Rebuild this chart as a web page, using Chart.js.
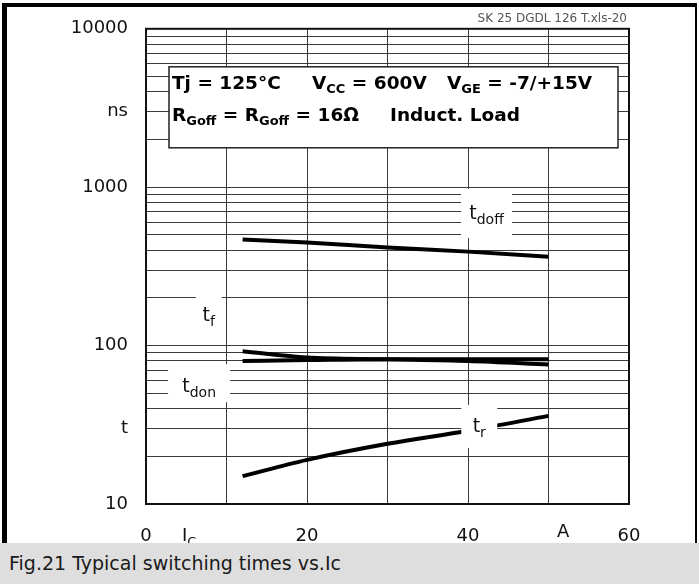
<!DOCTYPE html>
<html>
<head>
<meta charset="utf-8">
<script src="https://cdn.jsdelivr.net/npm/chart.js@4.4.1/dist/chart.umd.min.js"></script>
<style>
  html, body { margin: 0; padding: 0; background: #fff; }
  #wrap { position: relative; width: 699px; height: 584px; overflow: hidden; }
  canvas { position: absolute; left: 0; top: 0; }
  #frame { position: absolute; left: 2px; top: 3px; width: 695px; height: 540px; box-sizing: border-box;
           border-left: 5px solid #000; border-top: 4px solid #000; border-right: 2px solid #000; pointer-events: none; }
  #caption { position: absolute; left: 0; top: 543px; width: 699px; height: 41px; background: #dedede;
             font: 19px "DejaVu Sans", sans-serif; color: #1a1a1a; line-height: 40px; padding-left: 9px; box-sizing: border-box; }
</style>
</head>
<body>
<div id="wrap">
  <canvas id="chart" width="699" height="584"></canvas>
  <div id="frame"></div>
  <div id="caption">Fig.21 Typical switching times vs.Ic</div>
</div>
<script>
// collector current Ic (A)
var current = [12, 20, 30, 40, 50];
// switching times (ns)
var tDoff = [468, 447, 416, 392, 364];
var tF = [92, 84, 82, 80, 76];
var tDon = [80, 81, 82, 82, 82];
var tR = [15, 19, 24, 29, 36];

var xTickLabels = { 0: "0", 20: "20", 40: "40", 60: "60" };
var yGridValues = [10, 20, 30, 40, 50, 60, 70, 80, 90,
                   100, 200, 300, 400, 500, 600, 700, 800, 900,
                   1000, 2000, 3000, 4000, 5000, 6000, 7000, 8000, 9000, 10000];
var yTickLabels = { 10: "10", 30: "t", 100: "100", 1000: "1000", 3000: "ns", 10000: "10000" };

// curve labels: main letter, subscript, box centre in data units
var curveLabels = [
  { main: "t", sub: "doff", x: 42.3, y: 683, w: 51, h: 49, dy: 6 },
  { main: "t", sub: "r", x: 41.4, y: 30.9, w: 36, h: 43, dy: 6 },
  { main: "t", sub: "don", x: 6.6, y: 57.9, w: 62, h: 38, dy: 9 },
  { main: "t", sub: "f", x: 7.8, y: 168, w: 26, h: 52, dy: 11 }
];

var FONT = "DejaVu Sans";

function points(ys) {
  return current.map(function (x, i) { return { x: x, y: ys[i] }; });
}

function lineSet(label, ys) {
  return {
    label: label,
    data: points(ys),
    borderColor: "#000",
    borderWidth: 4,
    pointRadius: 0,
    cubicInterpolationMode: "monotone",
    fill: false
  };
}

// draws text made of [text, isSub] pieces, returns end x
function drawRich(ctx, x, y, parts, size, subSize, bold, subDrop) {
  var w = bold ? "bold " : "";
  parts.forEach(function (p) {
    ctx.font = w + (p[1] ? subSize : size) + "px '" + FONT + "'";
    ctx.fillText(p[0], x, p[1] ? y + subDrop : y);
    x += ctx.measureText(p[0]).width;
  });
  return x;
}

function richWidth(ctx, parts, size, subSize, bold) {
  var w = bold ? "bold " : "";
  var total = 0;
  parts.forEach(function (p) {
    ctx.font = w + (p[1] ? subSize : size) + "px '" + FONT + "'";
    total += ctx.measureText(p[0]).width;
  });
  return total;
}

var overlay = {
  id: "overlay",
  afterDatasetsDraw: function (chart) {
    var ctx = chart.ctx;
    var a = chart.chartArea;
    var xs = chart.scales.x, ys = chart.scales.y;
    ctx.save();
    ctx.textAlign = "left";
    ctx.textBaseline = "alphabetic";

    // curve labels with white backgrounds
    curveLabels.forEach(function (l) {
      var cx = xs.getPixelForValue(l.x);
      var cy = ys.getPixelForValue(l.y);
      ctx.fillStyle = "#fff";
      ctx.fillRect(cx - l.w / 2, cy - l.h / 2, l.w, l.h);
      ctx.fillStyle = "#111";
      var parts = [[l.main, false], [l.sub, true]];
      var tw = richWidth(ctx, parts, 19, 14, false);
      drawRich(ctx, cx - tw / 2, cy + l.dy, parts, 19, 14, false, 5);
    });

    // plot frame
    ctx.strokeStyle = "#111";
    ctx.lineWidth = 2;
    ctx.strokeRect(a.left, a.top, a.right - a.left, a.bottom - a.top);

    // conditions box
    var bx = a.left + 23, by = a.top + 38;
    ctx.fillStyle = "#fff";
    ctx.fillRect(bx, by, 449, 81);
    ctx.strokeStyle = "#222";
    ctx.lineWidth = 1.5;
    ctx.strokeRect(bx, by, 449, 81);
    ctx.fillStyle = "#000";
    var b1 = a.top + 60, b2 = a.top + 92;
    drawRich(ctx, a.left + 26, b1, [["Tj = 125°C", false]], 18.5, 13, true, 4);
    drawRich(ctx, a.left + 166, b1, [["V", false], ["CC", true], [" = 600V", false]], 18.5, 13, true, 4);
    drawRich(ctx, a.left + 301, b1, [["V", false], ["GE", true], [" = -7/+15V", false]], 18.5, 13, true, 4);
    drawRich(ctx, a.left + 26, b2, [["R", false], ["Goff", true], [" = R", false], ["Goff", true], [" = 16Ω", false]], 18.5, 13, true, 4);
    drawRich(ctx, a.left + 244, b2, [["Induct. Load", false]], 18.5, 13, true, 4);

    // axis unit labels
    ctx.fillStyle = "#111";
    drawRich(ctx, a.left + 36, a.bottom + 37, [["I", false], ["C", true]], 18, 13, false, 5);
    ctx.font = "18px '" + FONT + "'";
    ctx.fillText("A", a.left + 411, a.bottom + 33);

    // file tag
    ctx.fillStyle = "#555";
    ctx.font = "12px '" + FONT + "'";
    ctx.textAlign = "right";
    ctx.fillText("SK 25 DGDL 126 T.xls-20", a.right - 2, a.top - 7);
    ctx.restore();
  }
};

var chart = new Chart(document.getElementById("chart").getContext("2d"), {
  type: "line",
  data: {
    datasets: [
      lineSet("tdoff", tDoff),
      lineSet("tf", tF),
      lineSet("tdon", tDon),
      lineSet("tr", tR)
    ]
  },
  options: {
    responsive: false,
    animation: false,
    layout: { padding: { left: 0, right: 70, top: 25, bottom: 0 } },
    plugins: { legend: { display: false }, tooltip: { enabled: false } },
    scales: {
      x: {
        type: "linear",
        min: 0,
        max: 60,
        afterFit: function (s) { s.height = 80; },
        grid: { color: "#3a3a3a", lineWidth: 1, drawTicks: false },
        border: { display: false },
        ticks: {
          stepSize: 10,
          autoSkip: false,
          maxRotation: 0,
          padding: 22,
          color: "#111",
          font: { family: FONT, size: 18 },
          callback: function (v) { return xTickLabels[v] !== undefined ? xTickLabels[v] : ""; }
        }
      },
      y: {
        type: "logarithmic",
        min: 10,
        max: 10000,
        afterFit: function (s) { s.width = 146; },
        afterBuildTicks: function (s) {
          s.ticks = yGridValues.map(function (v) { return { value: v }; });
        },
        grid: { color: "#3a3a3a", lineWidth: 1, drawTicks: false },
        border: { display: false },
        ticks: {
          autoSkip: false,
          padding: 18,
          color: "#111",
          font: { family: FONT, size: 18 },
          callback: function (v) { return yTickLabels[v] !== undefined ? yTickLabels[v] : ""; }
        }
      }
    }
  },
  plugins: [overlay]
});
</script>
</body>
</html>
